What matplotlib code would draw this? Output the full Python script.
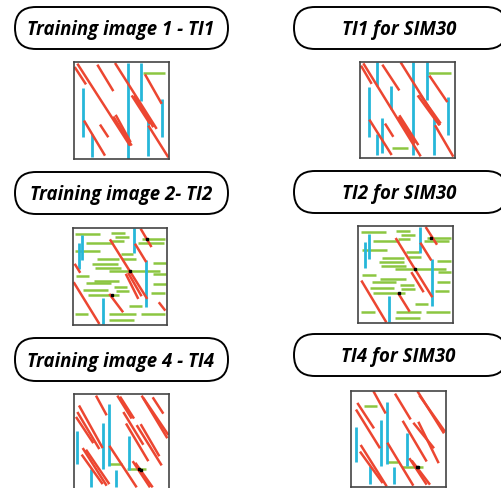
import matplotlib
matplotlib.use("Agg")
from matplotlib import pyplot as plt
from matplotlib.patches import FancyBboxPatch

# segment data, in drawing units of each image (0..285 wide, 0..290 tall, y down)
# red diagonals: (x0, y0, x1, y1)
ti1_red = [(2, 15, 36, 67), (10, 5, 168, 250), (70, 8, 118, 87), (123, 3, 248, 200),
           (173, 100, 228, 185), (180, 100, 238, 195), (213, 37, 263, 125),
           (30, 175, 93, 280), (78, 187, 103, 225), (118, 163, 173, 250),
           (125, 158, 170, 240), (223, 190, 283, 285)]
# blue verticals: (x, y0, y1)
ti1_blue = [(28, 78, 225), (53, 215, 285), (161, 3, 290), (201, 3, 117),
            (223, 165, 280), (263, 110, 223)]
# green horizontals: (x0, x1, y)
ti1_green = [(206, 273, 33)]
ti1_dots = []

sim1_red = [(3, 11, 35, 66), (10, 4, 182, 285), (67, 8, 118, 86), (122, 1, 240, 191),
            (173, 101, 238, 191), (180, 98, 242, 186), (208, 41, 262, 121),
            (28, 174, 95, 281), (75, 186, 100, 226), (118, 161, 175, 251),
            (115, 166, 165, 246), (225, 191, 280, 286)]
sim1_blue = [(50, 1, 71), (27, 76, 226), (92, 71, 141), (67, 168, 276), (52, 216, 281),
             (158, 1, 281), (200, 1, 116), (222, 166, 281), (263, 106, 221)]
sim1_green = [(205, 272, 33), (95, 145, 261)]
sim1_dots = []

ti2_red = [(205, 2, 238, 57), (112, 34, 225, 212), (160, 137, 198, 212),
           (167, 134, 208, 204), (188, 47, 222, 102), (5, 107, 22, 134),
           (2, 162, 80, 287), (110, 197, 152, 252), (260, 222, 280, 247)]
ti2_blue = [(28, 22, 97), (17, 45, 122), (185, 0, 74), (222, 97, 237), (90, 210, 287)]
ti2_green = [(5, 82, 17), (115, 158, 14), (128, 170, 27), (40, 120, 45), (115, 155, 39),
             (208, 280, 34), (198, 275, 45), (5, 82, 70), (145, 182, 77), (72, 140, 94),
             (150, 192, 92), (58, 135, 107), (68, 145, 119), (242, 282, 105),
             (108, 265, 130), (242, 282, 137), (8, 48, 144), (65, 140, 157),
             (40, 115, 165), (125, 165, 177), (30, 105, 184), (130, 170, 187),
             (242, 282, 167), (45, 138, 200), (235, 278, 194), (170, 210, 232),
             (5, 45, 257), (110, 190, 257), (205, 280, 257), (110, 185, 274)]
ti2_dots = [(225, 34), (172, 130), (118, 200)]

sim2_red = [(203, 3, 237, 56), (113, 36, 223, 213), (160, 138, 197, 198),
            (187, 50, 220, 103), (10, 163, 85, 288), (120, 200, 155, 256)]
sim2_blue = [(33, 23, 100), (22, 48, 126), (185, 3, 80), (223, 98, 238), (93, 210, 288)]
sim2_green = [(10, 85, 18), (115, 157, 15), (130, 170, 28), (45, 123, 46), (120, 157, 40),
              (207, 280, 35), (197, 273, 46), (13, 87, 73), (143, 183, 78), (73, 137, 96),
              (150, 190, 93), (63, 137, 108), (70, 145, 120), (237, 280, 106),
              (110, 265, 130), (240, 280, 138), (13, 53, 145), (67, 143, 158),
              (43, 115, 166), (127, 167, 176), (35, 107, 185), (130, 170, 188),
              (237, 277, 168), (45, 140, 201), (230, 273, 195), (170, 210, 233),
              (10, 50, 256), (115, 190, 256), (203, 277, 258), (110, 187, 276)]
sim2_dots = [(220, 35), (172, 130), (122, 201)]

ti4_red = [(66, 5, 98, 65), (15, 35, 86, 165), (10, 55, 76, 168), (6, 70, 58, 150),
           (130, 5, 173, 75), (138, 8, 180, 75), (148, 55, 208, 155), (156, 90, 223, 205),
           (203, 5, 280, 135), (208, 12, 283, 125), (236, 10, 268, 60),
           (188, 95, 263, 218), (200, 92, 256, 190), (26, 165, 98, 280),
           (36, 170, 106, 275), (23, 185, 86, 275), (106, 158, 188, 285),
           (176, 205, 228, 285), (184, 210, 236, 285)]
ti4_blue = [(8, 113, 215), (51, 228, 285), (88, 88, 228), (105, 30, 220),
            (126, 232, 285), (166, 128, 232)]
ti4_green = [(106, 143, 214), (158, 216, 230)]
ti4_dots = [(196, 230), (201, 231)]

sim4_red = [(67, 0, 104, 68), (19, 36, 69, 113), (15, 56, 87, 173), (132, 8, 179, 86),
            (155, 90, 227, 213), (187, 96, 249, 173), (202, 93, 263, 218),
            (199, 0, 279, 128), (205, 13, 282, 123), (29, 163, 107, 288),
            (27, 183, 95, 278), (109, 156, 187, 286), (175, 203, 227, 283),
            (182, 210, 237, 283)]
sim4_blue = [(14, 110, 213), (57, 228, 281), (90, 88, 226), (107, 33, 220),
             (129, 230, 281), (167, 128, 228)]
sim4_green = [(40, 77, 46), (109, 142, 213), (152, 215, 230)]
sim4_dots = [(197, 230), (202, 231)]

titles = ["Training image 1 - TI1", "TI1 for SIM30",
          "Training image 2- TI2", "TI2 for SIM30",
          "Training image 4 - TI4", "TI4 for SIM30"]
panels = [(ti1_red, ti1_blue, ti1_green, ti1_dots),
          (sim1_red, sim1_blue, sim1_green, sim1_dots),
          (ti2_red, ti2_blue, ti2_green, ti2_dots),
          (sim2_red, sim2_blue, sim2_green, sim2_dots),
          (ti4_red, ti4_blue, ti4_green, ti4_dots),
          (sim4_red, sim4_blue, sim4_green, sim4_dots)]

# layout in pixels (left, top, right, bottom)
W, H = 502, 489
image_boxes = [(74, 63, 169, 160), (360, 63, 455, 159),
               (73, 229, 167, 326), (358, 227, 453, 324),
               (74, 395, 169, 490), (351, 392, 446, 488)]
title_boxes = [(15, 8, 228, 50), (294, 8, 507, 50),
               (15, 173, 228, 215), (294, 172, 507, 214),
               (15, 339, 228, 382), (294, 335, 507, 377)]
text_x = [121, 399, 121, 399, 121, 398]

RED = "#ec4631"
BLUE = "#26b7d9"
GREEN = "#8cc641"

fig = plt.figure(figsize=(W / 100, H / 100), dpi=100)
bg = fig.add_axes([0, 0, 1, 1])
bg.set_xlim(0, W)
bg.set_ylim(H, 0)
bg.axis("off")

for (l, t, r, b), title, tx in zip(title_boxes, titles, text_x):
    box = FancyBboxPatch((l, t), r - l, b - t,
                         boxstyle="round,pad=0,rounding_size=21",
                         fc="white", ec="black", lw=1.4)
    bg.add_patch(box)
    bg.text(tx, (t + b) / 2 + 1, title, ha="center", va="center",
            fontsize=13.4, fontweight="bold", fontstyle="italic",
            family=["Open Sans", "DejaVu Sans"])

for (l, t, r, b), (reds, blues, greens, dots) in zip(image_boxes, panels):
    ax = fig.add_axes([l / W, (H - b) / H, (r - l) / W, (b - t) / H])
    ax.set_xlim(0, 285)
    ax.set_ylim(290, 0)
    ax.set_xticks([])
    ax.set_yticks([])
    for s in ax.spines.values():
        s.set_color("#444444")
        s.set_linewidth(1.2)
    for x0, x1, y in greens:
        ax.plot([x0, x1], [y, y], color=GREEN, lw=1.8, solid_capstyle="butt")
    for x, y0, y1 in blues:
        ax.plot([x, x], [y0, y1], color=BLUE, lw=2.0, solid_capstyle="butt")
    for x0, y0, x1, y1 in reds:
        ax.plot([x0, x1], [y0, y1], color=RED, lw=1.8, solid_capstyle="butt")
    for x, y in dots:
        ax.plot(x, y, "s", color="black", ms=1.8)

fig.savefig("out.png", dpi=100)
